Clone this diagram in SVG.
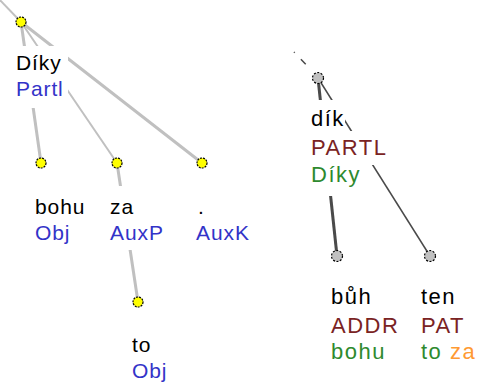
<svg xmlns="http://www.w3.org/2000/svg" width="484" height="392" viewBox="0 0 484 392">
<style>
text{font-family:"Liberation Sans",Arial,sans-serif;font-size:21px;letter-spacing:0.9px}
.r text{font-size:22px;letter-spacing:1.5px}
.w{fill:#000}
.fb{fill:#3333c8}
.tr{fill:#7a2323}
.tg{fill:#2e8a2e}
.to{fill:#ff9a33}
.ny{fill:#ffff00;stroke:#000;stroke-width:1.2;stroke-dasharray:2 1}
.ng{fill:#c0c0c0;stroke:#000;stroke-width:1.2;stroke-dasharray:2 1.5}
.el{stroke:#c0c0c0;fill:none;stroke-linecap:butt}
.er{stroke:#4a4a4a;fill:none}
</style>
<defs>
<mask id="m" maskUnits="userSpaceOnUse" x="-10" y="-10" width="504" height="412">
<rect x="-10" y="-10" width="504" height="412" fill="#fff"/>
<rect x="14" y="46" width="54" height="62" fill="#000"/>
<rect x="33" y="186" width="48" height="64" fill="#000"/>
<rect x="108" y="186" width="60" height="64" fill="#000"/>
<rect x="309" y="100" width="36" height="31" fill="#000"/>
<rect x="309" y="131" width="84" height="34" fill="#000"/>
<rect x="309" y="165" width="53" height="31" fill="#000"/>
</mask>
</defs>
<g id="connectors" mask="url(#m)">
<line class="el" x1="-3" y1="-3" x2="21" y2="22" stroke-width="2"/>
<line class="el" x1="21" y1="22" x2="41" y2="163" stroke-width="3"/>
<line class="el" x1="21" y1="22" x2="117" y2="163" stroke-width="2"/>
<line class="el" x1="21" y1="22" x2="202" y2="163" stroke-width="3"/>
<line class="el" x1="117" y1="163" x2="138" y2="302" stroke-width="3"/>
<path class="er" d="M294,52 L313,72" stroke-width="1.5" stroke-dasharray="1 9 7 99"/>
<line class="er" x1="318" y1="78" x2="337" y2="256" stroke-width="3" stroke="#505050"/>
<line class="er" x1="318" y1="78" x2="430" y2="256" stroke-width="1.5"/>
</g>
<g id="n-diky">
<circle class="ny" cx="21" cy="22" r="5"/>
<text class="w" x="16" y="70">Díky</text>
<text class="fb" x="16" y="96">Partl</text>
</g>
<g id="n-bohu">
<circle class="ny" cx="41" cy="163" r="5"/>
<text class="w" x="35" y="214">bohu</text>
<text class="fb" x="35" y="240">Obj</text>
</g>
<g id="n-za">
<circle class="ny" cx="117" cy="163" r="5"/>
<text class="w" x="110" y="214">za</text>
<text class="fb" x="110" y="240">AuxP</text>
</g>
<g id="n-auxk">
<circle class="ny" cx="202" cy="163" r="5"/>
<text class="w" x="198" y="214">.</text>
<text class="fb" x="196" y="240">AuxK</text>
</g>
<g id="n-to">
<circle class="ny" cx="138" cy="302" r="5"/>
<text class="w" x="132" y="352">to</text>
<text class="fb" x="132" y="378">Obj</text>
</g>
<g class="r">
<g id="t-dik">
<circle class="ng" cx="318" cy="78" r="5.5"/>
<text class="w" x="311" y="126">dík</text>
<text class="tr" x="311" y="155">PARTL</text>
<text class="tg" x="311" y="182">Díky</text>
</g>
<g id="t-buh">
<circle class="ng" cx="337" cy="256" r="5.5"/>
<text class="w" x="331" y="304">bůh</text>
<text class="tr" x="331" y="333">ADDR</text>
<text class="tg" x="331" y="359">bohu</text>
</g>
<g id="t-ten">
<circle class="ng" cx="430" cy="256" r="5.5"/>
<text class="w" x="421" y="304">ten</text>
<text class="tr" x="421" y="333">PAT</text>
<text x="421" y="359"><tspan class="tg">to</tspan><tspan class="to"> za</tspan></text>
</g>
</g>
</svg>
